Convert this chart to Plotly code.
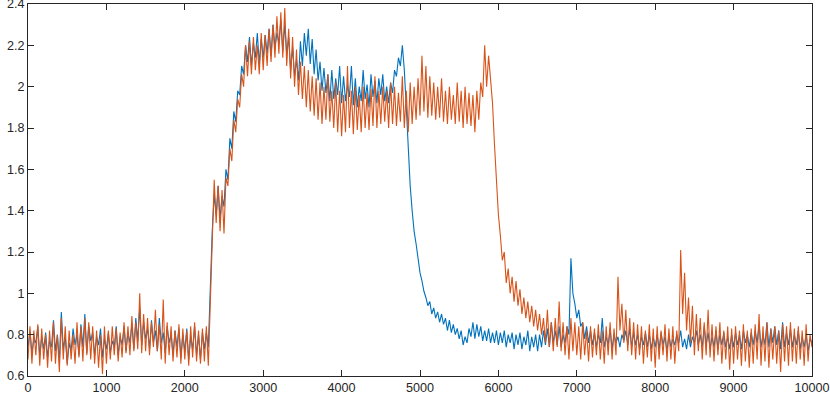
import plotly.graph_objects as go

# sample positions: every 25 units from 0 to 10000
x_start, x_step, n_points = 0, 25, 401

series_blue = [
    0.74,0.82,0.71,0.78,0.76,0.84,0.70,0.79,0.73,0.81,
    0.69,0.77,0.74,0.87,0.72,0.80,0.67,0.91,0.73,0.79,
    0.66,0.76,0.72,0.83,0.75,0.80,0.70,0.85,0.74,0.90,
    0.71,0.84,0.77,0.81,0.70,0.79,0.75,0.83,0.69,0.78,
    0.73,0.81,0.71,0.77,0.74,0.84,0.70,0.79,0.75,0.84,
    0.72,0.81,0.76,0.85,0.73,0.88,0.77,0.93,0.75,0.86,
    0.78,0.83,0.73,0.87,0.76,0.82,0.72,0.88,0.76,0.81,
    0.71,0.84,0.76,0.80,0.70,0.82,0.74,0.83,0.69,0.80,
    0.72,0.83,0.68,0.79,0.73,0.84,0.70,0.80,0.68,0.81,
    0.73,0.81,0.74,1.05,1.30,1.48,1.38,1.52,1.36,1.47,
    1.42,1.60,1.55,1.75,1.70,1.88,1.83,1.98,1.96,2.10,
    2.06,2.20,2.12,2.24,2.10,2.21,2.14,2.26,2.11,2.23,
    2.14,2.25,2.16,2.28,2.15,2.30,2.19,2.26,2.21,2.32,
    2.17,2.30,2.16,2.24,2.08,2.19,2.05,2.13,2.03,2.22,
    2.10,2.26,2.15,2.28,2.11,2.23,2.06,2.18,2.03,2.12,
    1.98,2.09,1.97,2.06,1.93,2.08,1.94,2.04,1.96,2.10,
    1.92,2.05,1.93,2.01,1.95,2.10,1.91,2.04,1.90,2.00,
    1.93,2.08,1.94,2.01,1.90,2.06,1.95,2.03,1.92,2.04,
    1.96,2.06,1.93,2.00,1.92,2.02,1.97,2.08,2.05,2.14,
    2.10,2.20,2.08,1.90,1.70,1.52,1.40,1.30,1.24,1.17,
    1.10,1.06,1.01,0.98,0.94,0.96,0.90,0.93,0.88,0.91,
    0.86,0.90,0.85,0.88,0.82,0.87,0.81,0.85,0.80,0.83,
    0.78,0.82,0.75,0.79,0.76,0.83,0.79,0.86,0.78,0.85,
    0.79,0.84,0.77,0.82,0.77,0.83,0.76,0.81,0.76,0.82,
    0.75,0.81,0.76,0.82,0.74,0.80,0.76,0.81,0.73,0.80,
    0.75,0.81,0.73,0.79,0.75,0.82,0.72,0.79,0.74,0.80,
    0.72,0.80,0.74,0.82,0.75,0.83,0.74,0.86,0.76,0.82,
    0.75,0.84,0.74,0.80,0.76,0.84,0.80,1.17,1.00,0.95,
    0.88,0.92,0.84,0.86,0.78,0.84,0.76,0.82,0.75,0.81,
    0.74,0.80,0.76,0.88,0.74,0.79,0.75,0.83,0.73,0.80,
    0.76,0.79,0.74,0.80,0.77,0.82,0.75,0.83,0.74,0.81,
    0.75,0.80,0.73,0.79,0.75,0.81,0.74,0.80,0.73,0.79,
    0.74,0.80,0.73,0.81,0.75,0.79,0.72,0.80,0.74,0.78,
    0.75,0.80,0.76,0.82,0.74,0.78,0.73,0.80,0.74,0.79,
    0.76,0.82,0.75,0.80,0.74,0.84,0.75,0.81,0.73,0.79,
    0.74,0.82,0.73,0.80,0.75,0.81,0.74,0.79,0.73,0.80,
    0.74,0.81,0.75,0.80,0.73,0.82,0.76,0.80,0.74,0.81,
    0.75,0.82,0.76,0.85,0.74,0.80,0.75,0.86,0.74,0.83,
    0.76,0.84,0.75,0.82,0.73,0.86,0.74,0.81,0.75,0.83,
    0.74,0.80,0.75,0.82,0.73,0.79,0.74,0.80,0.72,0.78,
    0.76,
]

series_orange = [
    0.68,0.84,0.66,0.82,0.70,0.85,0.65,0.83,0.68,0.80,
    0.64,0.82,0.67,0.86,0.66,0.80,0.62,0.88,0.68,0.84,
    0.65,0.82,0.68,0.80,0.66,0.86,0.69,0.84,0.67,0.88,
    0.70,0.86,0.68,0.84,0.66,0.82,0.64,0.80,0.61,0.84,
    0.66,0.82,0.68,0.84,0.70,0.83,0.67,0.81,0.69,0.86,
    0.71,0.84,0.70,0.89,0.72,0.86,0.73,1.00,0.71,0.90,
    0.72,0.88,0.70,0.86,0.74,0.92,0.72,0.85,0.68,0.97,
    0.66,0.86,0.70,0.84,0.67,0.82,0.69,0.85,0.66,0.83,
    0.68,0.82,0.65,0.84,0.69,0.86,0.67,0.82,0.66,0.83,
    0.67,0.84,0.65,1.00,1.25,1.55,1.34,1.52,1.30,1.50,
    1.29,1.56,1.52,1.70,1.64,1.84,1.78,1.94,1.90,2.06,
    2.00,2.20,2.05,2.22,2.06,2.24,2.08,2.20,2.06,2.26,
    2.08,2.25,2.10,2.28,2.12,2.30,2.14,2.34,2.16,2.36,
    2.14,2.38,2.10,2.28,2.04,2.24,2.00,2.18,1.96,2.12,
    1.94,2.10,1.90,2.08,1.88,2.05,1.86,2.04,1.84,2.02,
    1.82,2.00,1.84,2.06,1.83,1.98,1.80,2.02,1.78,1.98,
    1.76,1.96,1.78,2.10,1.80,1.98,1.77,2.00,1.79,1.96,
    1.78,2.00,1.80,1.97,1.79,1.99,1.81,2.05,1.80,1.98,
    1.82,2.00,1.83,1.98,1.80,2.02,1.82,2.00,1.81,1.97,
    1.83,2.05,1.80,1.98,1.78,2.02,1.82,2.00,1.84,2.04,
    1.86,2.15,1.88,2.10,1.85,2.05,1.86,2.02,1.84,2.00,
    1.85,2.04,1.83,1.98,1.82,2.00,1.84,1.96,1.82,2.02,
    1.83,1.98,1.80,2.00,1.82,1.97,1.81,1.96,1.78,1.98,
    1.84,2.02,1.95,2.20,2.00,2.15,2.05,1.92,1.72,1.55,
    1.38,1.28,1.16,1.20,1.05,1.12,1.00,1.08,0.96,1.06,
    0.94,1.02,0.90,0.98,0.88,0.96,0.86,0.94,0.84,0.92,
    0.82,0.90,0.80,0.88,0.76,0.92,0.74,0.86,0.72,0.88,
    0.74,0.96,0.72,0.86,0.70,0.84,0.68,0.88,0.72,0.86,
    0.70,0.84,0.68,0.86,0.70,0.82,0.67,0.84,0.69,0.83,
    0.70,0.85,0.68,0.82,0.66,0.84,0.70,0.86,0.68,0.83,
    0.70,1.08,0.82,0.95,0.76,0.92,0.72,0.88,0.70,0.86,
    0.68,0.85,0.70,0.84,0.66,0.82,0.69,0.85,0.67,0.83,
    0.64,0.84,0.68,0.82,0.70,0.85,0.67,0.83,0.68,0.84,
    0.66,0.82,0.72,1.21,0.90,1.10,0.82,0.98,0.76,0.94,
    0.70,0.90,0.72,0.88,0.68,0.86,0.70,0.92,0.69,0.85,
    0.67,0.84,0.70,0.86,0.66,0.82,0.68,0.84,0.63,0.83,
    0.66,0.84,0.68,0.82,0.65,0.85,0.67,0.82,0.64,0.83,
    0.66,0.85,0.68,0.90,0.65,0.84,0.67,0.86,0.64,0.83,
    0.68,0.84,0.66,0.82,0.62,0.85,0.67,0.84,0.65,0.86,
    0.67,0.83,0.66,0.84,0.68,0.82,0.65,0.85,0.67,0.80,
    0.74,
]

x_tick_values = [0, 1000, 2000, 3000, 4000, 5000, 6000, 7000, 8000, 9000, 10000]
x_tick_labels = ["0", "1000", "2000", "3000", "4000", "5000", "6000", "7000", "8000", "9000", "10000"]
y_tick_values = [0.6, 0.8, 1.0, 1.2, 1.4, 1.6, 1.8, 2.0, 2.2, 2.4]
y_tick_labels = ["0.6", "0.8", "1", "1.2", "1.4", "1.6", "1.8", "2", "2.2", "2.4"]

x_values = [x_start + i * x_step for i in range(n_points)]

fig = go.Figure()
fig.add_trace(go.Scatter(x=x_values, y=series_blue, mode="lines",
                         line=dict(color="#0072BD", width=1.1), showlegend=False))
fig.add_trace(go.Scatter(x=x_values, y=series_orange, mode="lines",
                         line=dict(color="#D95319", width=1.1), showlegend=False))

axis_common = dict(
    showline=True, linecolor="#262626", linewidth=1, mirror="ticks",
    ticks="inside", ticklen=6, tickwidth=1, tickcolor="#262626",
    showgrid=False, zeroline=False, automargin=False, ticklabeloverflow="allow",
    tickfont=dict(family="Liberation Sans, Arial, sans-serif", size=12.6, color="#262626"),
)

fig.update_layout(
    width=830, height=398,
    margin=dict(l=28, r=18, t=4, b=22),
    paper_bgcolor="white", plot_bgcolor="white",
    xaxis=dict(range=[0, 10000], tickvals=x_tick_values, ticktext=x_tick_labels, **axis_common),
    yaxis=dict(range=[0.6, 2.4], tickvals=y_tick_values, ticktext=y_tick_labels, **axis_common),
)

fig.write_html(
    "out.html",
    config={"displayModeBar": False},
    post_script="document.body.style.margin='0';document.body.style.overflow='hidden';",
)
